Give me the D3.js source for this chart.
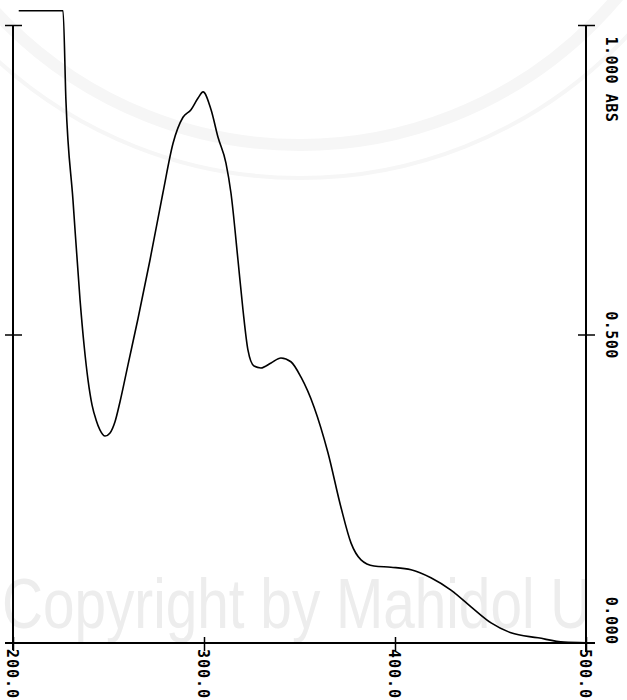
<!DOCTYPE html>
<html>
<head>
<meta charset="utf-8">
<script src="https://cdn.jsdelivr.net/npm/d3@7"></script>
<style>
  body { margin: 0; background: #fff; }
  svg { display: block; }
</style>
</head>
<body>
<div id="chart"></div>
<script>
// spectrum (nm / ABS)
var wavelength = [203, 226.2, 227.7, 231.4, 235.1, 237.2, 239.3, 241.4, 243.5, 245.5,
  248.2, 250.8, 253.4, 256.0, 260.2, 265.4, 271.7, 278.5, 283.8, 289.0,
  293.2, 296.9, 299.5, 303.7, 307.3, 311.5, 314.1, 317.8, 320.4, 323.0,
  326.2, 329.8, 335.1, 340.3, 345.5, 350.8, 357.6, 364.9, 371.7, 377.0,
  382.2, 389.0, 397.9, 408.4, 418.8, 429.3, 439.8, 450.3, 460.7, 474.9,
  488.5, 500];
var absorbance = [1.023, 1.023, 0.879, 0.717, 0.556, 0.483, 0.426, 0.386, 0.362, 0.346,
  0.336, 0.341, 0.359, 0.391, 0.451, 0.525, 0.620, 0.729, 0.809, 0.851,
  0.863, 0.882, 0.892, 0.863, 0.819, 0.777, 0.729, 0.620, 0.540, 0.475,
  0.449, 0.446, 0.454, 0.462, 0.456, 0.431, 0.383, 0.309, 0.221, 0.163,
  0.136, 0.126, 0.124, 0.120, 0.107, 0.087, 0.060, 0.034, 0.018, 0.010,
  0.003, 0.002];

var xTicks = [200, 300, 400, 500];
var xTickLabels = ['200.0', '300.0', '400.0', '500.0'];
var yTicks = [0, 0.5, 1];
var yTickLabels = ['0.000', '0.500', '1.000 ABS'];
var watermark = 'Copyright by Mahidol U';

var W = 627, H = 700;
var labelFont = '"DejaVu Sans Mono", monospace';

var svg = d3.select('#chart').append('svg')
  .attr('width', W)
  .attr('height', H);

var x = d3.scaleLinear().domain([200, 500]).range([13, 586]);
var y = d3.scaleLinear().domain([0, 1]).range([644, 25]);

// faint scan watermark
svg.append('circle')
  .attr('cx', 300).attr('cy', -270).attr('r', 415)
  .attr('fill', 'none').attr('stroke', '#f6f6f6').attr('stroke-width', 12);
svg.append('circle')
  .attr('cx', 300).attr('cy', -270).attr('r', 448)
  .attr('fill', 'none').attr('stroke', '#f6f6f6').attr('stroke-width', 4);
svg.append('text')
  .attr('transform', 'translate(2,628) scale(0.81,1)')
  .attr('font-family', '"Liberation Sans", Arial, sans-serif')
  .attr('font-size', 70)
  .attr('fill', '#ededed')
  .text(watermark);

// bottom axis (wavelength)
var gx = svg.append('g')
  .attr('transform', 'translate(0,' + 643 + ')')
  .call(d3.axisBottom(x)
    .tickValues(xTicks)
    .tickFormat(function(d, i){ return xTickLabels[i]; })
    .tickSizeInner(8)
    .tickSizeOuter(0));
gx.select('.domain').remove();
gx.selectAll('.tick line')
  .attr('y1', -6).attr('y2', 8)
  .attr('stroke', '#000').attr('stroke-width', 1.5);
gx.selectAll('.tick text')
  .attr('x', null).attr('y', null).attr('dy', null)
  .attr('transform', 'translate(-7,6) rotate(90)')
  .attr('text-anchor', 'start')
  .attr('font-family', labelFont)
  .attr('font-weight', 'bold')
  .attr('font-size', 15)
  .attr('letter-spacing', 1)
  .attr('fill', '#000');
gx.append('line')
  .attr('x1', 5).attr('x2', 595)
  .attr('y1', 0).attr('y2', 0)
  .attr('stroke', '#000').attr('stroke-width', 2);

// left axis (no labels)
var gl = svg.append('g')
  .attr('transform', 'translate(' + x(200) + ',0)')
  .call(d3.axisLeft(y).tickValues([0.5, 1]).tickFormat('').tickSizeOuter(0));
gl.select('.domain').remove();
gl.selectAll('.tick line')
  .attr('x1', -8).attr('x2', 9)
  .attr('stroke', '#000').attr('stroke-width', 1.5);
gl.append('line')
  .attr('x1', 0).attr('x2', 0)
  .attr('y1', y(1)).attr('y2', 650)
  .attr('stroke', '#000').attr('stroke-width', 2);

// right axis (absorbance)
var gr = svg.append('g')
  .attr('transform', 'translate(' + x(500) + ',0)')
  .call(d3.axisRight(y)
    .tickValues(yTicks)
    .tickFormat(function(d, i){ return yTickLabels[i]; })
    .tickSizeOuter(0));
gr.select('.domain').remove();
gr.selectAll('.tick line')
  .attr('x1', -8).attr('x2', 9)
  .attr('stroke', '#000').attr('stroke-width', 1.5);
gr.selectAll('.tick').filter(function(d){ return d === 0; }).select('line').remove();
gr.selectAll('.tick text')
  .attr('x', null).attr('dy', null)
  .attr('transform', function(d){
    var off = d === 1 ? 11 : 0;
    return 'translate(20,' + off + ') rotate(90)';
  })
  .attr('text-anchor', function(d){
    if(d === 1){ return 'start'; }
    if(d === 0){ return 'end'; }
    return 'middle';
  })
  .attr('font-family', labelFont)
  .attr('font-weight', 'bold')
  .attr('font-size', 15)
  .attr('letter-spacing', 0.5)
  .attr('fill', '#000');
gr.append('line')
  .attr('x1', 0).attr('x2', 0)
  .attr('y1', y(1)).attr('y2', 652)
  .attr('stroke', '#000').attr('stroke-width', 2);

// spectrum trace
var pts = wavelength.map(function(w, i){ return [w, absorbance[i]]; });
var line = d3.line()
  .x(function(d){ return x(d[0]); })
  .y(function(d){ return y(d[1]); })
  .curve(d3.curveMonotoneX);

svg.append('path')
  .datum(pts)
  .attr('d', line)
  .attr('fill', 'none')
  .attr('stroke', '#000')
  .attr('stroke-width', 1.6)
  .attr('stroke-linejoin', 'round');
</script>
</body>
</html>
